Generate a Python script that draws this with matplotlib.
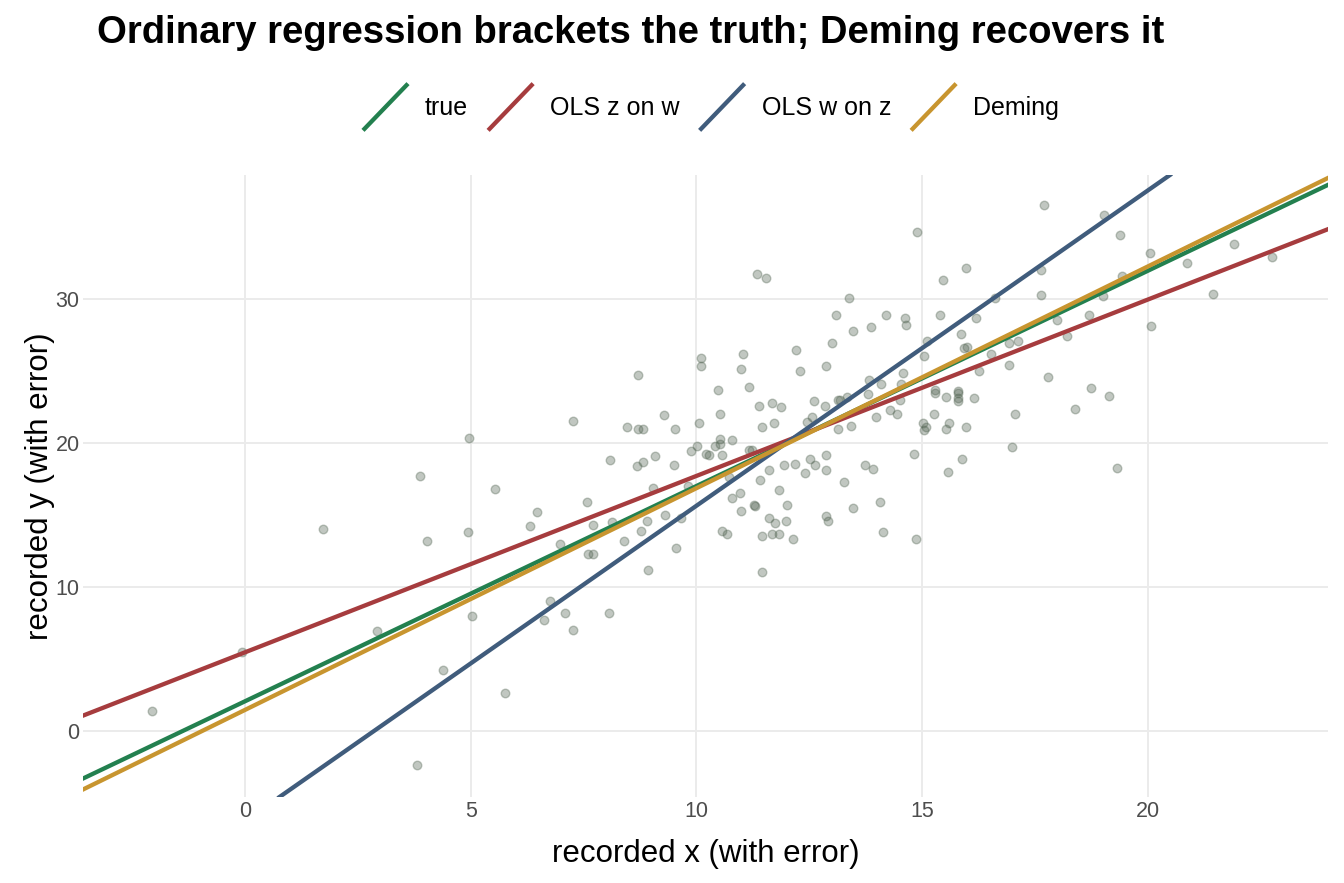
import matplotlib
matplotlib.use("Agg")
import matplotlib.pyplot as plt
from matplotlib.lines import Line2D
from matplotlib.legend_handler import HandlerBase

plt.rcParams['font.family'] = ['Liberation Sans', 'DejaVu Sans']

# %%
# recorded points
x_rec = [-2.06, -0.07, 1.73, 2.92, 3.81, 3.88, 4.03, 4.39, 4.94, 4.96, 5.03, 5.54, 5.76,
         6.31, 6.47, 6.62, 6.76, 6.98, 7.09, 7.27, 7.27, 7.58, 7.60, 7.71, 7.71, 8.06,
         8.09, 8.13, 8.40, 8.46, 8.68, 8.71, 8.71, 8.77, 8.82, 8.82, 8.91, 8.93, 9.04,
         9.08, 9.28, 9.30, 9.50, 9.53, 9.55, 9.66, 9.81, 9.88, 10.01, 10.06, 10.10, 10.10,
         10.21, 10.28, 10.41, 10.48, 10.52, 10.52, 10.52, 10.57, 10.57, 10.68, 10.72, 10.79,
         10.79, 10.97, 10.99, 10.99, 11.03, 11.17, 11.17, 11.23, 11.28, 11.30, 11.34, 11.39,
         11.41, 11.45, 11.45, 11.45, 11.54, 11.61, 11.61, 11.67, 11.67, 11.72, 11.74, 11.83,
         11.83, 11.87, 11.94, 11.99, 12.00, 12.14, 12.18, 12.21, 12.30, 12.41, 12.45, 12.52,
         12.56, 12.61, 12.63, 12.85, 12.87, 12.87, 12.87, 12.87, 12.92, 13.00, 13.09, 13.14,
         13.14, 13.18, 13.27, 13.34, 13.38, 13.42, 13.47, 13.47, 13.73, 13.80, 13.82, 13.87,
         13.91, 13.98, 14.07, 14.09, 14.13, 14.20, 14.29, 14.44, 14.51, 14.53, 14.58, 14.62,
         14.64, 14.82, 14.86, 14.89, 15.02, 15.04, 15.04, 15.09, 15.11, 15.26, 15.29, 15.29,
         15.40, 15.46, 15.53, 15.53, 15.57, 15.60, 15.80, 15.80, 15.80, 15.80, 15.86, 15.88,
         15.93, 15.97, 15.97, 16.00, 16.15, 16.19, 16.26, 16.53, 16.61, 16.92, 16.92, 16.99,
         17.06, 17.12, 17.63, 17.63, 17.70, 17.79, 17.99, 18.21, 18.39, 18.70, 18.74, 19.00,
         19.03, 19.14, 19.32, 19.38, 19.43, 20.05, 20.07, 20.87, 21.44, 21.91, 22.75]
y_rec = [1.39, 5.5, 13.99, 6.96, -2.37, 17.68, 13.2, 4.2, 13.8, 20.3, 8.0, 16.8, 2.6,
         14.2, 15.2, 7.7, 9.0, 13.0, 8.15, 21.5, 7.0, 15.9, 12.3, 12.25, 14.3, 8.2,
         18.8, 14.5, 13.15, 21.1, 18.4, 24.7, 20.95, 13.9, 20.95, 18.65, 14.55, 11.2, 16.85,
         19.05, 21.9, 15.0, 18.45, 20.95, 12.7, 14.8, 17.0, 19.4, 19.8, 21.4, 25.9, 25.3,
         19.2, 19.15, 19.75, 23.65, 22.0, 20.25, 19.9, 19.15, 13.9, 13.7, 17.6, 20.2,
         16.15, 16.5, 25.1, 15.25, 26.2, 23.9, 19.5, 19.5, 15.7, 15.6, 31.7, 22.55,
         17.45, 21.1, 13.55, 11.0, 31.45, 18.1, 14.75, 22.75, 13.65, 21.4, 14.45, 16.7,
         13.65, 22.5, 18.45, 14.55, 15.65, 13.3, 18.5, 26.45, 25.0, 17.9, 21.45, 18.9,
         21.8, 22.9, 18.45, 22.55, 19.15, 18.1, 14.9, 25.3, 14.55, 26.9, 28.9, 22.95,
         20.95, 22.95, 17.3, 23.2, 30.05, 21.15, 27.8, 15.5, 18.45, 23.4, 24.35, 28.05,
         18.15, 21.8, 15.9, 24.1, 13.8, 28.9, 22.25, 22.0, 22.95, 24.1, 24.85, 28.65,
         28.2, 19.2, 13.3, 34.65, 21.4, 26.0, 20.9, 21.1, 27.1, 22.0, 23.45, 23.65,
         28.9, 31.3, 23.2, 20.95, 17.95, 21.4, 23.45, 22.9, 23.1, 23.6, 27.55, 18.9,
         26.6, 32.15, 21.1, 26.65, 23.1, 28.7, 25.0, 26.15, 30.05, 26.95, 25.4, 19.7,
         22.0, 27.05, 32.0, 30.3, 36.5, 24.6, 28.55, 27.4, 22.35, 28.9, 23.8, 30.2,
         35.8, 23.25, 18.25, 34.45, 31.6, 33.2, 28.1, 32.5, 30.35, 33.8, 32.9]

# fitted lines: intercept, slope
line_names = ["true", "OLS z on w", "OLS w on z", "Deming"]
intercepts = [2.05, 5.45, -6.27, 1.45]
slopes = [1.495, 1.225, 2.19, 1.54]
line_colors = ["#23804f", "#a63c3e", "#405c7c", "#c8952f"]

# %%
class HandlerDiag(HandlerBase):
    # diagonal key like ggplot's abline glyph
    def create_artists(self, legend, orig_handle, xdescent, ydescent, width, height, fontsize, trans):
        ln = Line2D([-xdescent, -xdescent + width], [-ydescent, -ydescent + height],
                    color=orig_handle.get_color(), lw=orig_handle.get_linewidth(),
                    solid_capstyle='butt', transform=trans)
        return [ln]

fig = plt.figure(figsize=(13.44, 8.83), dpi=100)
ax = fig.add_axes([83/1344, 1 - 797/883, (1328 - 83)/1344, (797 - 175)/883])

ax.scatter(x_rec, y_rec, s=38, color="#4f614f", alpha=0.35, linewidths=1.0, zorder=2)

handles = []
for name, b, m, c in zip(line_names, intercepts, slopes, line_colors):
    ax.axline((0, b), slope=m, color=c, lw=3.1, zorder=3)
    handles.append(Line2D([], [], color=c, lw=3.1, label=name))

ax.set_xlim(-3.59, 23.99)
ax.set_ylim(-4.6, 38.6)
ax.set_xticks([0, 5, 10, 15, 20])
ax.set_yticks([0, 10, 20, 30])
ax.grid(True, color="#ebebeb", lw=1.4)
ax.set_axisbelow(True)
for s in ax.spines.values():
    s.set_visible(False)
ax.tick_params(length=0, labelsize=15.5, colors="#4d4d4d")
ax.tick_params(axis='x', pad=3)
ax.tick_params(axis='y', pad=2.5)

ax.set_xlabel("recorded x (with error)", fontsize=22.5, labelpad=12)
ax.set_ylabel("recorded y (with error)", fontsize=22.5, labelpad=0.5)

fig.text(97/1344, 1 - 33/883, "Ordinary regression brackets the truth; Deming recovers it",
         fontsize=27.5, fontweight='bold', ha='left', va='center')

fig.legend(handles=handles, loc='center', bbox_to_anchor=(711/1344, 1 - 107/883), ncol=4,
           frameon=False, fontsize=18, handlelength=1.8, handleheight=2.5,
           handletextpad=0.68, columnspacing=0.8,
           handler_map={Line2D: HandlerDiag()})

fig.savefig("out.png", dpi=100)
